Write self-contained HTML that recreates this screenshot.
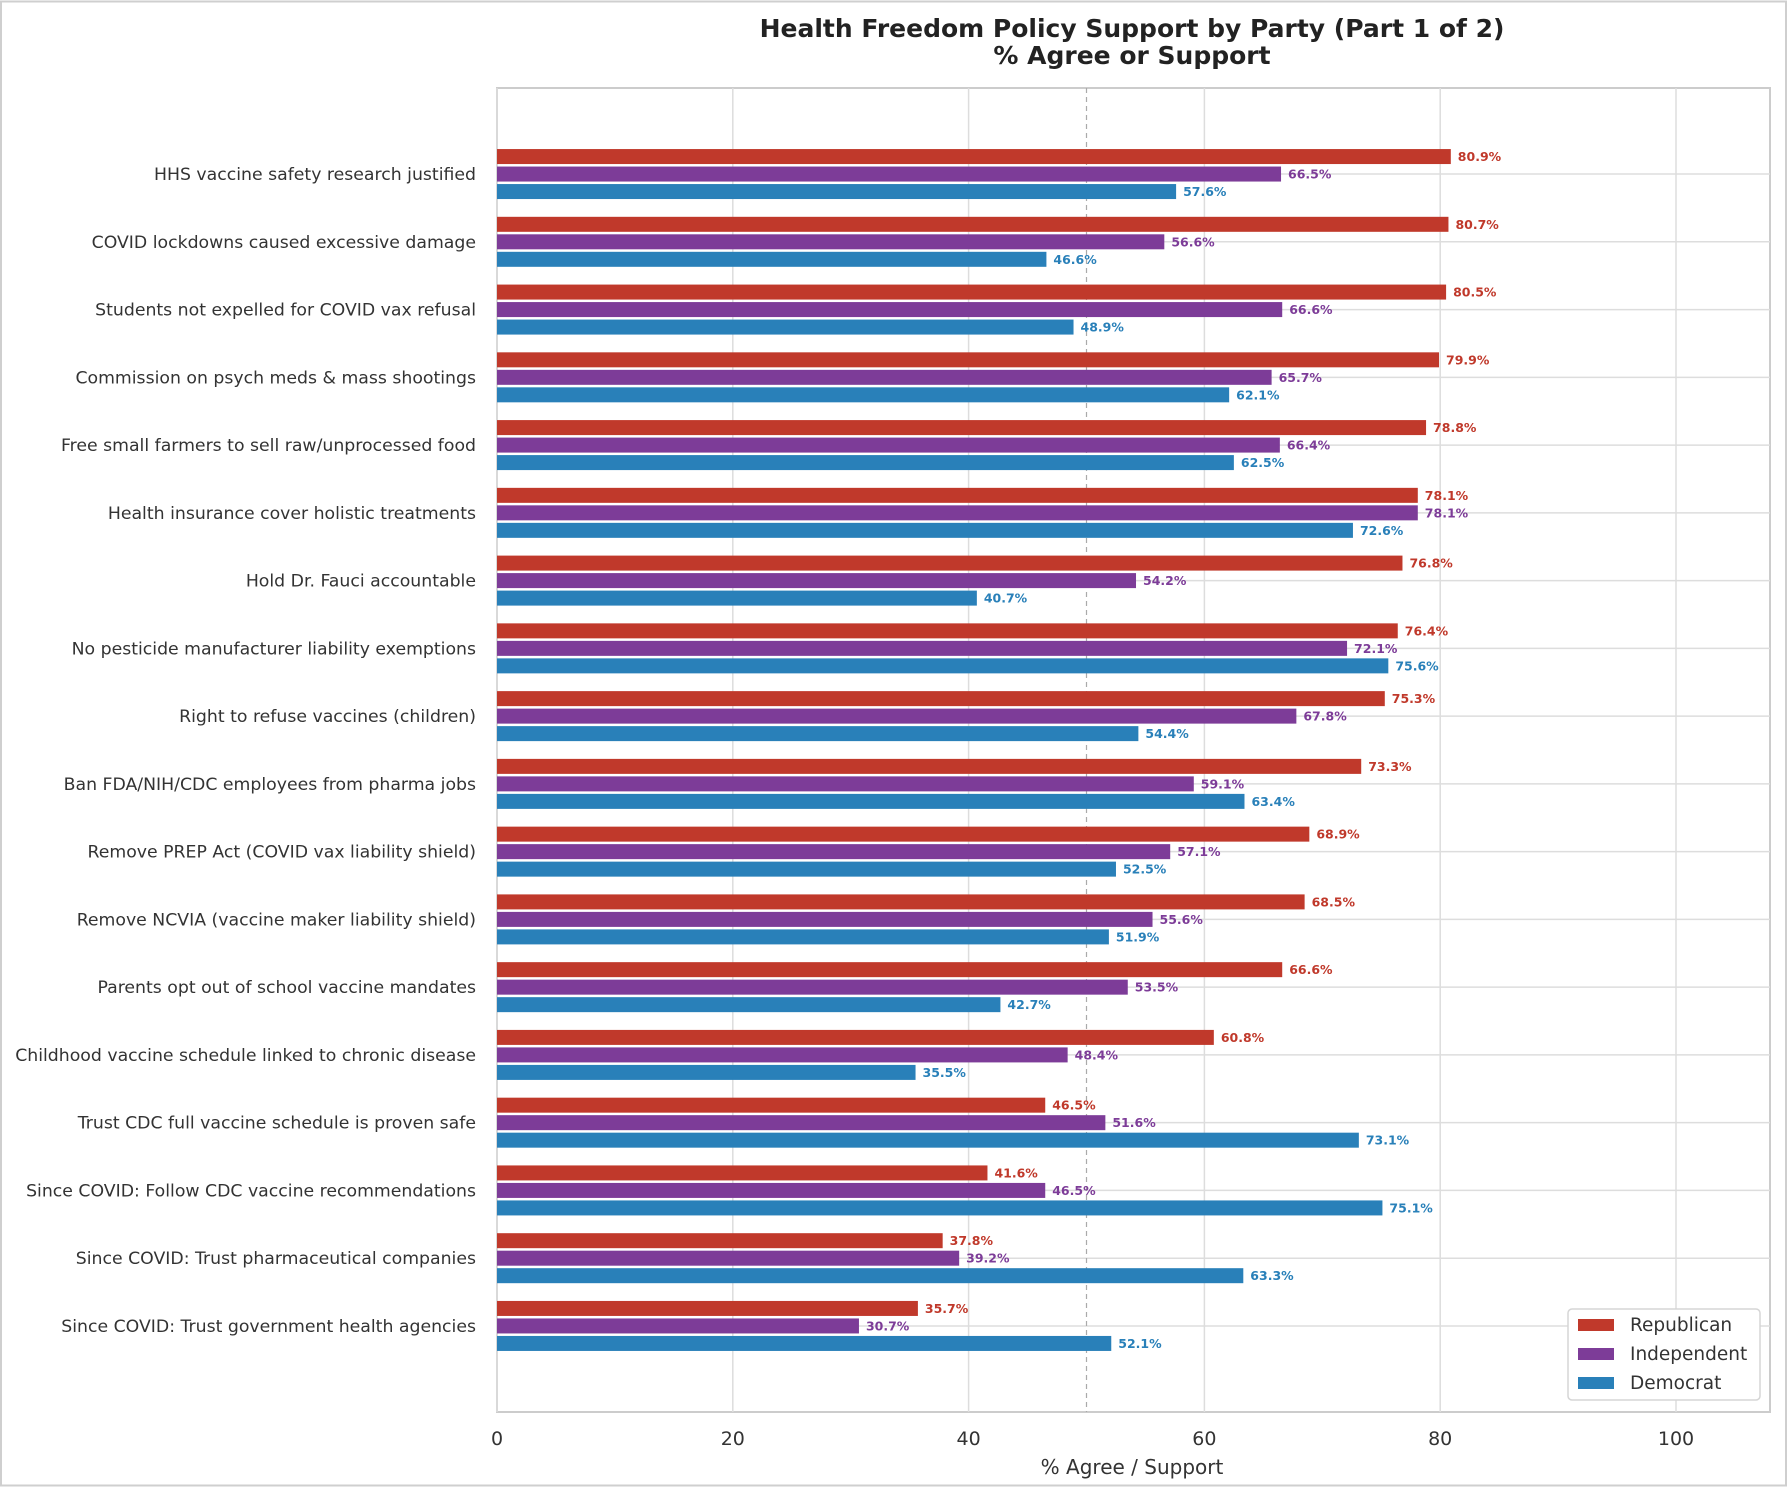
<!DOCTYPE html>
<html><head><meta charset="utf-8"><style>
html,body{margin:0;padding:0;background:#fff}
svg{display:block;font-family:"DejaVu Sans","Liberation Sans",sans-serif}
</style></head><body>
<svg id="chart" width="1788" height="1488" viewBox="0 0 1788 1488" xmlns="http://www.w3.org/2000/svg">
<rect x="1" y="1.5" width="1785" height="1484" fill="#fff" stroke="#cfcfcf" stroke-width="2"/>
<text x="1132" y="37" text-anchor="middle" font-size="25" font-weight="bold" fill="#222">Health Freedom Policy Support by Party (Part 1 of 2)</text>
<text x="1132" y="64" text-anchor="middle" font-size="25" font-weight="bold" fill="#222">% Agree or Support</text>
<g id="plot"></g>
</svg>
<script>
const categories = ["HHS vaccine safety research justified","COVID lockdowns caused excessive damage","Students not expelled for COVID vax refusal","Commission on psych meds & mass shootings","Free small farmers to sell raw/unprocessed food","Health insurance cover holistic treatments","Hold Dr. Fauci accountable","No pesticide manufacturer liability exemptions","Right to refuse vaccines (children)","Ban FDA/NIH/CDC employees from pharma jobs","Remove PREP Act (COVID vax liability shield)","Remove NCVIA (vaccine maker liability shield)","Parents opt out of school vaccine mandates","Childhood vaccine schedule linked to chronic disease","Trust CDC full vaccine schedule is proven safe","Since COVID: Follow CDC vaccine recommendations","Since COVID: Trust pharmaceutical companies","Since COVID: Trust government health agencies"];
const republican = [80.9,80.7,80.5,79.9,78.8,78.1,76.8,76.4,75.3,73.3,68.9,68.5,66.6,60.8,46.5,41.6,37.8,35.7];
const independent = [66.5,56.6,66.6,65.7,66.4,78.1,54.2,72.1,67.8,59.1,57.1,55.6,53.5,48.4,51.6,46.5,39.2,30.7];
const democrat = [57.6,46.6,48.9,62.1,62.5,72.6,40.7,75.6,54.4,63.4,52.5,51.9,42.7,35.5,73.1,75.1,63.3,52.1];
const seriesNames = ["Republican","Independent","Democrat"];
const xTicks = [0,20,40,60,80,100];

const NS="http://www.w3.org/2000/svg";
const colors=["#c0392b","#7d3c98","#2980b9"];
const L=497, R=1770, T=88, B=1412;
const x = v => L + v*11.79;
const groupPitch = (B-T)/(categories.length-1+2.54);
const y = i => T + groupPitch*1.27 + i*groupPitch;
const barH = 15, barStep = 17.5;
const g=document.getElementById('plot');
function el(tag,attrs,parent){const e=document.createElementNS(NS,tag);for(const k in attrs)e.setAttribute(k,attrs[k]);(parent||g).appendChild(e);return e;}

const bg=el('rect',{x:L,y:T,width:R-L,height:B-T,fill:'#fff',stroke:'#cccccc','stroke-width':2});


xTicks.forEach(t=>{
  const ln=el('line',{x1:x(t),x2:x(t),y1:T,y2:B,stroke:'#dddddd','stroke-width':1.5});
  
  
  const tx=el('text',{x:x(t),y:B+33,'text-anchor':'middle','font-size':19,fill:'#333'});
  tx.textContent=t;
  
  
});
categories.forEach((c,i)=>{
  const ln=el('line',{x1:L,x2:R,y1:y(i),y2:y(i),stroke:'#dddddd','stroke-width':1.5});
  
  
});
const ref=el('line',{x1:x(50),x2:x(50),y1:T,y2:B,stroke:'#aaaaaa','stroke-width':1.2,'stroke-dasharray':'5,4'});



const series=[republican,independent,democrat];
categories.forEach((c,i)=>{
  const lab=el('text',{x:476,y:y(i)+6,'text-anchor':'end','font-size':17.3,fill:'#333'});
  lab.textContent=c;
  
  
  series.forEach((s,k)=>{
    const cy=y(i)+(k-1)*barStep;
    const r=el('rect',{x:x(0),y:cy-barH/2,width:x(s[i])-x(0),height:barH,fill:colors[k]});
    
    
    const t=el('text',{x:x(s[i])+7,y:cy+4.5,'font-size':12.5,'font-weight':'bold',fill:colors[k]});
    t.textContent=s[i].toFixed(1)+'%';
    
    
  });
});
const xl=el('text',{x:1132,y:1474,'text-anchor':'middle','font-size':20,fill:'#333'});
xl.textContent='% Agree / Support';



const lg=el('g',{});


el('rect',{x:1568,y:1309,width:192,height:91,rx:4,fill:'#fff',stroke:'#d5d5d5','stroke-width':1.5},lg);
seriesNames.forEach((n,k)=>{
  const cy=1325+k*29;
  const sw=el('rect',{x:1578,y:cy-6,width:36,height:12,fill:colors[k]},lg);
  
  
  const t=el('text',{x:1630,y:cy+6,'font-size':18.5,fill:'#333'},lg);
  t.textContent=n;
  
  
});
</script>
</body></html>
